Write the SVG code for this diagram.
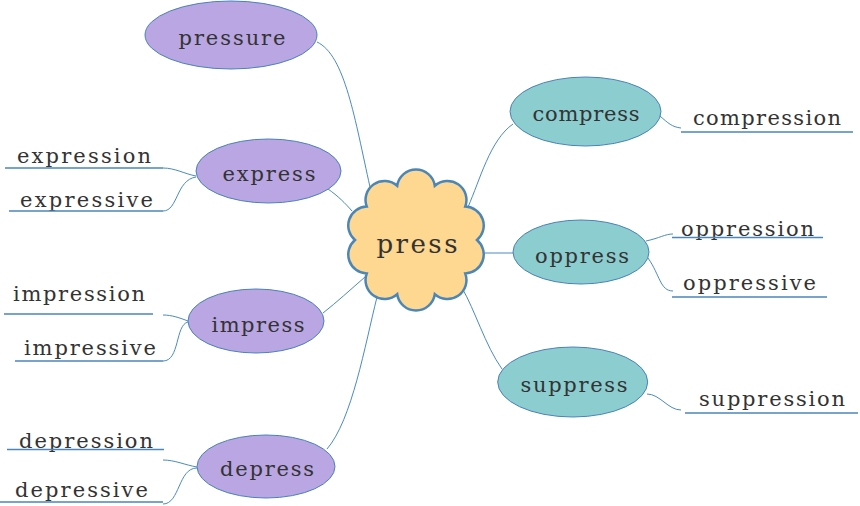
<svg xmlns="http://www.w3.org/2000/svg" width="860" height="506" viewBox="0 0 860 506">
<style>
.bg{fill:#ffffff}
.pur{fill:#b9a6e2;stroke:#4a82b8;stroke-width:1}
.teal{fill:#8ccdd0;stroke:#4a82b8;stroke-width:1}
.cloud{fill:#fed791;stroke:#4a86b8;stroke-width:2.5}
.lbl{font-family:'DejaVu Serif','Liberation Serif',serif;font-size:21px;fill:#333333}
.mid{text-anchor:middle}
.big{font-size:26px}
.con{fill:none;stroke:#4a8bbd;stroke-width:1}
.ul{fill:none;stroke:#4a86b8;stroke-width:1.5}
</style>
<rect class="bg" x="0" y="0" width="860" height="506"/>
<g id="connectors">
<path class="con" d="M317,42 C345,55 355,120 370,187"/>
<path class="con" d="M328,189 C338,196 345,203 352,211"/>
<path class="con" d="M468,207 C480,180 490,140 513,124"/>
<path class="con" d="M485,253 L513,253"/>
<path class="con" d="M462,288 C475,310 485,345 502,369"/>
<path class="con" d="M365,277 C350,290 337,302 323,313"/>
<path class="con" d="M377,297 C365,345 352,420 327,449"/>
<path class="con" d="M163,168 C175,168 185,174 196,176"/>
<path class="con" d="M163,211 C178,211 176,180 196,177"/>
<path class="con" d="M163,315 C172,315 180,318 188,321"/>
<path class="con" d="M163,361 C180,361 175,325 188,322"/>
<path class="con" d="M163,460 C175,460 185,465 197,467"/>
<path class="con" d="M163,504 C180,504 178,468 197,468"/>
<path class="con" d="M660,116 C668,123 672,127 681,128"/>
<path class="con" d="M646,241 C660,238 665,234 673,234"/>
<path class="con" d="M648,258 C660,275 660,291 673,291"/>
<path class="con" d="M647,394 C660,394 668,410 681,410"/>
</g>
<g id="press">
<path class="cloud" d="M477,240 A19,19 0 0 0 465.3,206.5 A19,19 0 0 0 434.8,185.8 A19,19 0 0 0 397.2,185.8 A19,19 0 0 0 366.7,206.5 A19,19 0 0 0 355,240 A19,19 0 0 0 366.7,273.5 A19,19 0 0 0 397.2,294.2 A19,19 0 0 0 434.8,294.2 A19,19 0 0 0 465.3,273.5 A19,19 0 0 0 477,240 Z"/>
<text class="lbl big mid" x="417" y="253" textLength="81">press</text>
</g>
<g id="pressure">
<ellipse class="pur" cx="231" cy="35" rx="86" ry="34"/>
<text class="lbl mid" x="232" y="45" textLength="107">pressure</text>
</g>
<g id="express">
<ellipse class="pur" cx="268.5" cy="171" rx="72.5" ry="32"/>
<text class="lbl mid" x="269" y="181" textLength="93">express</text>
</g>
<g id="expression">
<text class="lbl" x="17" y="163" textLength="134">expression</text>
<line class="ul" x1="5" y1="168" x2="163" y2="168"/>
</g>
<g id="expressive">
<text class="lbl" x="20" y="207" textLength="133">expressive</text>
<line class="ul" x1="9" y1="211" x2="163" y2="211"/>
</g>
<g id="impress">
<ellipse class="pur" cx="256" cy="321" rx="68" ry="32"/>
<text class="lbl mid" x="258" y="332" textLength="93">impress</text>
</g>
<g id="impression">
<text class="lbl" x="13" y="301" textLength="132">impression</text>
<line class="ul" x1="4" y1="314" x2="153" y2="314"/>
</g>
<g id="impressive">
<text class="lbl" x="24" y="355" textLength="132">impressive</text>
<line class="ul" x1="15" y1="361" x2="163" y2="361"/>
</g>
<g id="depress">
<ellipse class="pur" cx="266" cy="466.5" rx="69" ry="31.5"/>
<text class="lbl mid" x="267" y="476" textLength="94">depress</text>
</g>
<g id="depression">
<text class="lbl" x="19" y="448" textLength="134">depression</text>
<line class="ul" x1="7" y1="449.5" x2="164" y2="449.5"/>
</g>
<g id="depressive">
<text class="lbl" x="15" y="497" textLength="133">depressive</text>
<line class="ul" x1="0" y1="502" x2="163" y2="502"/>
</g>
<g id="compress">
<ellipse class="teal" cx="585.5" cy="111.5" rx="75.5" ry="34.5"/>
<text class="lbl mid" x="586" y="121" textLength="107">compress</text>
</g>
<g id="compression">
<text class="lbl" x="693" y="125" textLength="148">compression</text>
<line class="ul" x1="681" y1="132" x2="853" y2="132"/>
</g>
<g id="oppress">
<ellipse class="teal" cx="581" cy="252" rx="68" ry="32"/>
<text class="lbl mid" x="582" y="263" textLength="94">oppress</text>
</g>
<g id="oppression">
<text class="lbl" x="681" y="236" textLength="133">oppression</text>
<line class="ul" x1="672" y1="237.5" x2="823" y2="237.5"/>
</g>
<g id="oppressive">
<text class="lbl" x="683" y="290" textLength="133">oppressive</text>
<line class="ul" x1="672" y1="297" x2="827" y2="297"/>
</g>
<g id="suppress">
<ellipse class="teal" cx="572.7" cy="382" rx="75" ry="35"/>
<text class="lbl mid" x="574" y="392" textLength="107">suppress</text>
</g>
<g id="suppression">
<text class="lbl" x="699" y="406" textLength="146">suppression</text>
<line class="ul" x1="685" y1="413" x2="858" y2="413"/>
</g>
</svg>
